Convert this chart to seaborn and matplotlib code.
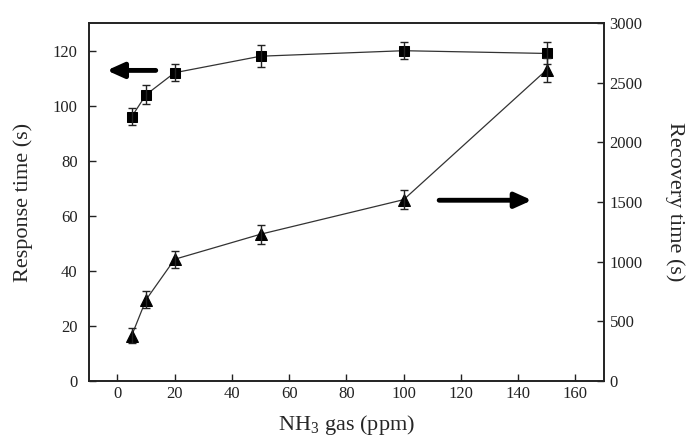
import numpy as np
import pandas as pd
import seaborn as sns
import matplotlib.pyplot as plt

# NH3 concentration (ppm)
conc = [5, 10, 20, 50, 100, 150]
# response time (s), left axis
response = [96, 104, 112, 118, 120, 119]
response_err = [3, 3.5, 3, 4, 3, 4]
# recovery time (s), right axis
recovery = [380, 680, 1020, 1230, 1520, 2610]
recovery_err = [60, 70, 70, 80, 80, 100]

df = pd.DataFrame({'conc': conc, 'response': response, 'recovery': recovery})

sns.set_style("ticks")
plt.rcParams['font.family'] = ['Liberation Serif', 'DejaVu Serif']
plt.rcParams['mathtext.fontset'] = 'custom'
plt.rcParams['mathtext.rm'] = 'Liberation Serif'

fig = plt.figure(figsize=(6.88, 4.46), dpi=100)
ax = fig.add_axes([0.129, 0.146, 0.749, 0.802])
ax2 = ax.twinx()

line_kw = dict(color='#333333', linewidth=0.9)

sns.lineplot(data=df, x='conc', y='response', ax=ax, marker='s', markersize=7,
             markerfacecolor='black', markeredgecolor='black', **line_kw)
ax.errorbar(conc, response, yerr=response_err, fmt='none', ecolor='#222222',
            elinewidth=1, capsize=3, capthick=1)

sns.lineplot(data=df, x='conc', y='recovery', ax=ax2, marker='^', markersize=9,
             markerfacecolor='black', markeredgecolor='black', **line_kw)
ax2.errorbar(conc, recovery, yerr=recovery_err, fmt='none', ecolor='#222222',
             elinewidth=1, capsize=3, capthick=1)

ax.set_xlim(-10, 170)
ax.set_ylim(0, 130)
ax2.set_ylim(0, 3000)
ax.set_xticks(np.arange(0, 161, 20))
ax.set_yticks(np.arange(0, 121, 20))
ax2.set_yticks(np.arange(0, 3001, 500))

ax.set_xlabel('NH$_\\mathregular{3}$ gas (ppm)', fontsize=16, labelpad=8)
ax.set_ylabel('Response time (s)', fontsize=16, labelpad=14)
ax2.set_ylabel('Recovery time (s)', fontsize=16, rotation=270, labelpad=30)

for a in (ax, ax2):
    a.tick_params(direction='in', length=5, width=1, labelsize=12, colors='#222222')
    for s in a.spines.values():
        s.set_linewidth(1.2)
        s.set_color('#222222')
ax.tick_params(axis='y', pad=8)
ax2.tick_params(axis='y', pad=4)

# direction arrows
arrow = dict(arrowstyle='-|>,head_length=1.0,head_width=0.45', color='black', lw=3.5,
             shrinkA=0, shrinkB=0)
ax.annotate('', xy=(0.035, 0.868), xytext=(0.13, 0.868), xycoords='axes fraction',
            arrowprops=arrow)
ax.annotate('', xy=(0.86, 0.505), xytext=(0.68, 0.505), xycoords='axes fraction',
            arrowprops=arrow)

fig.savefig('out.png', dpi=100)
